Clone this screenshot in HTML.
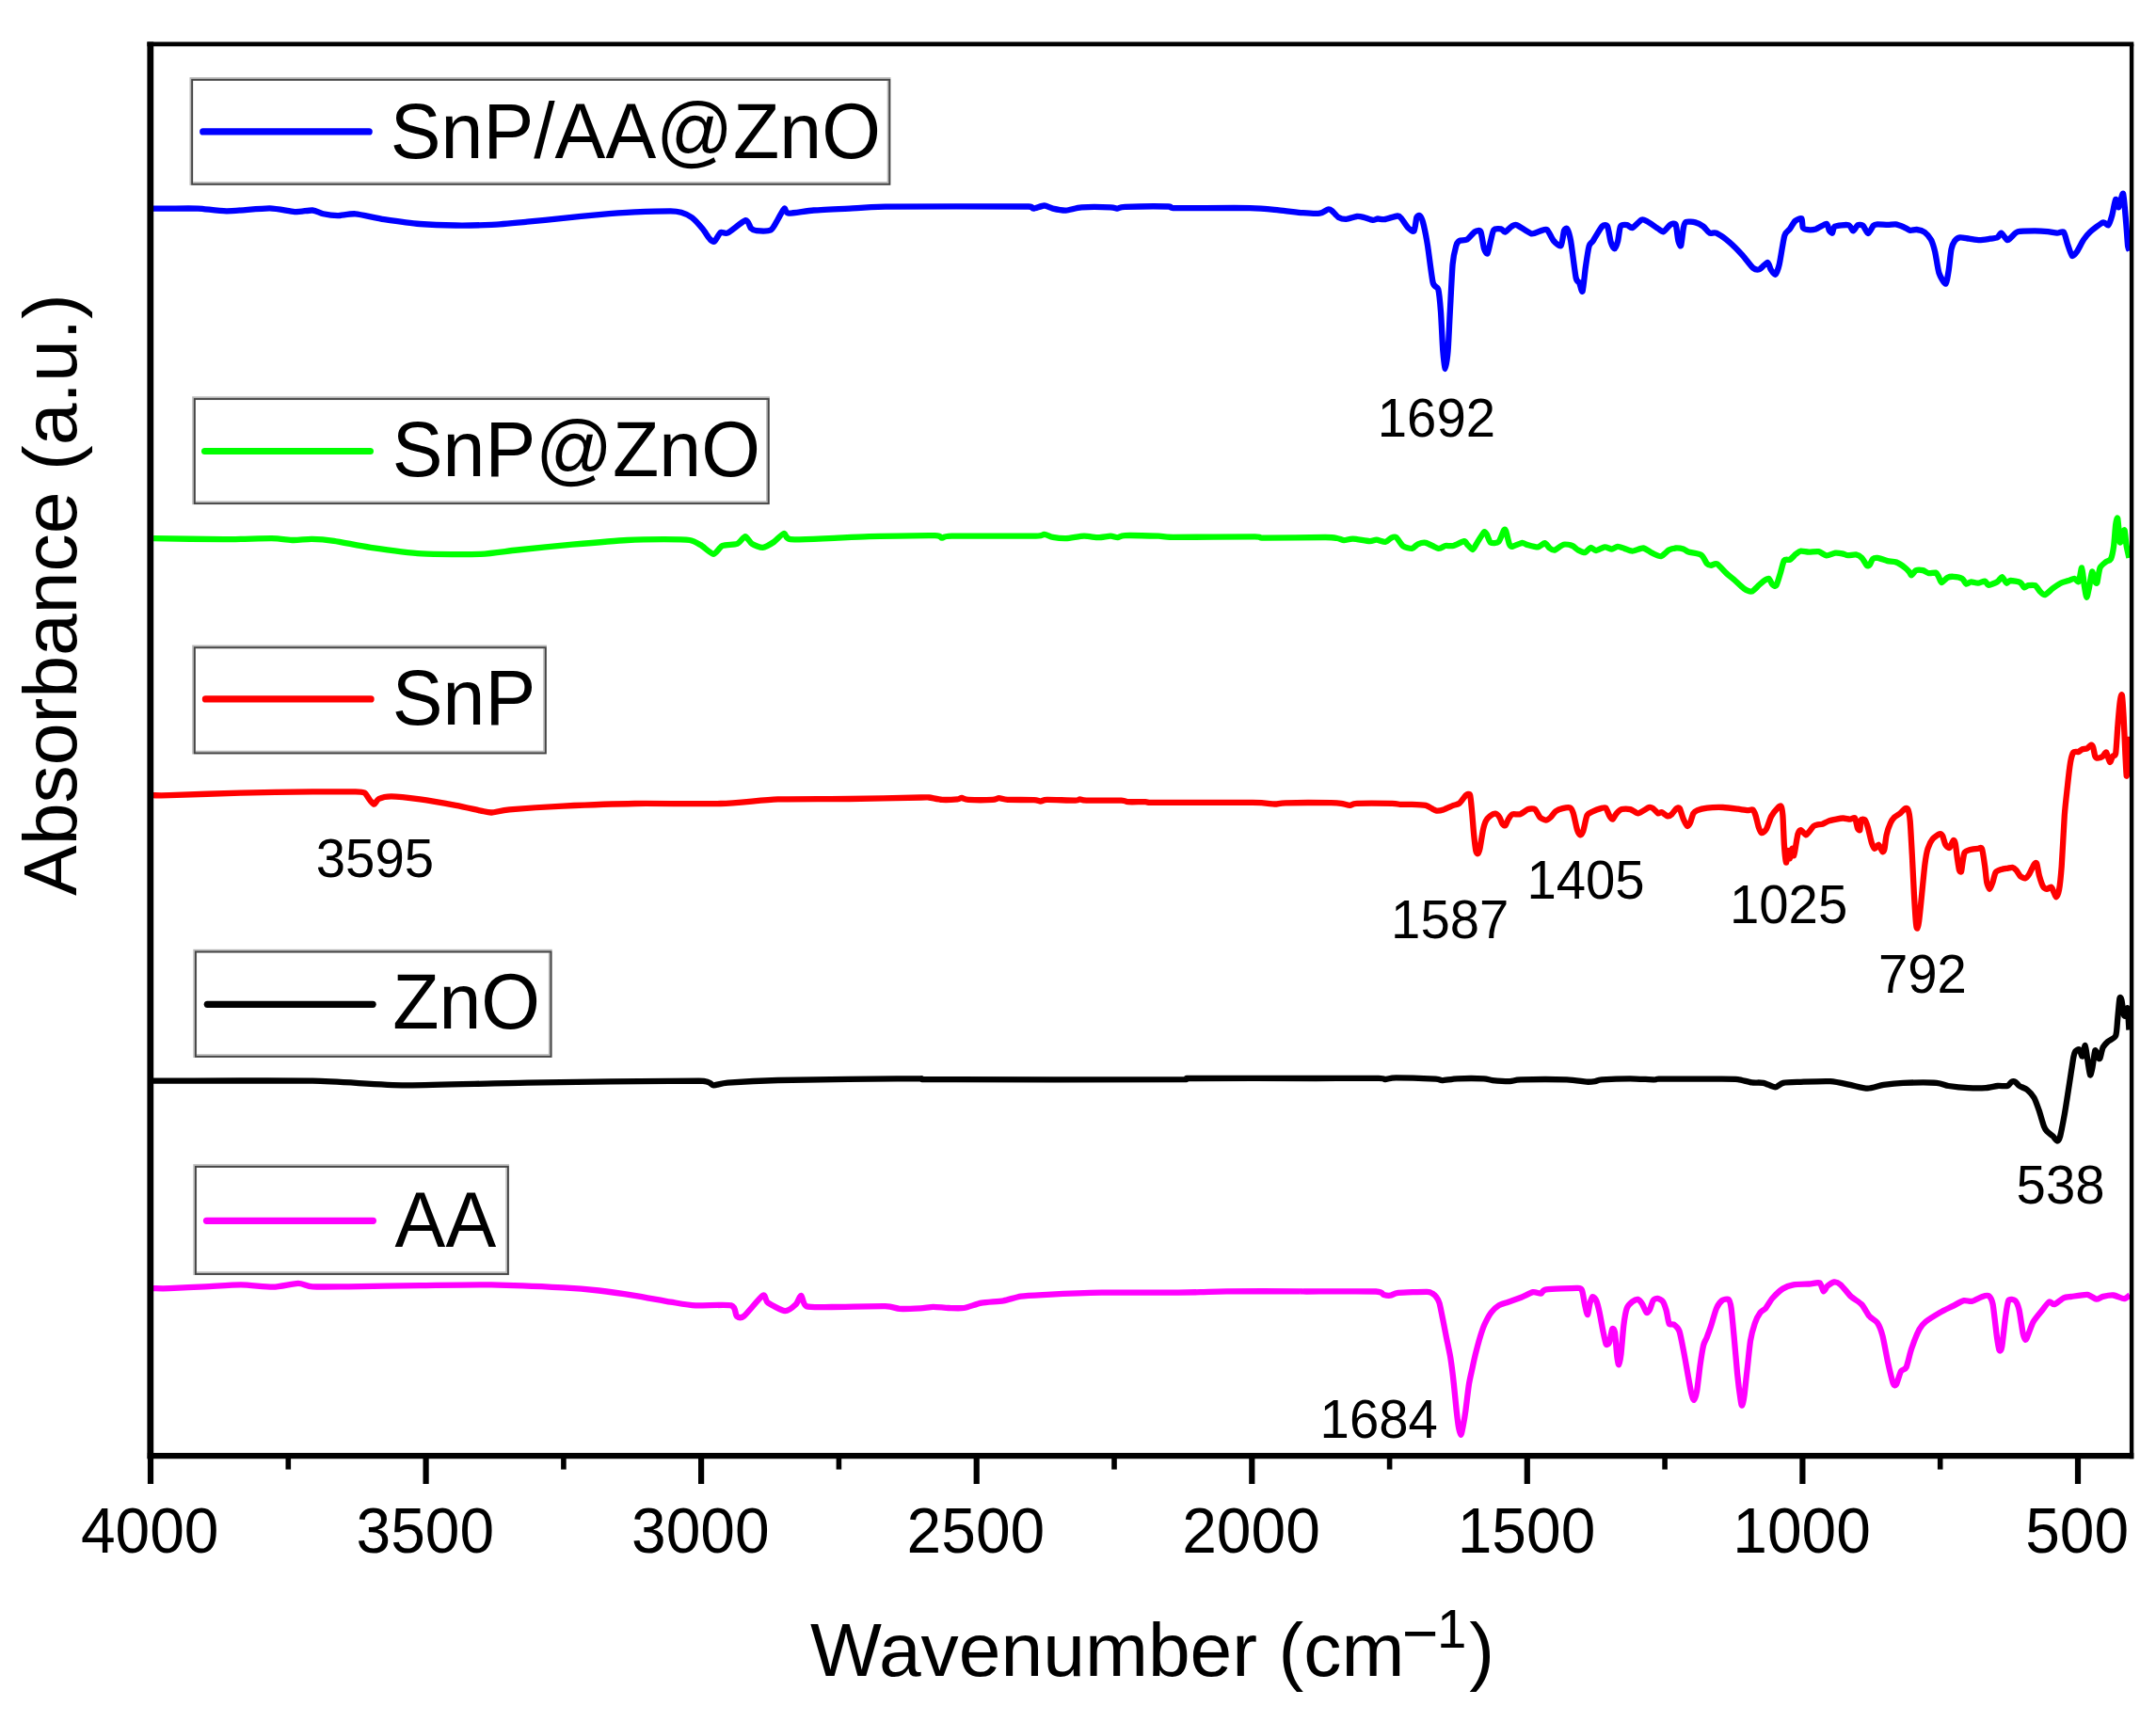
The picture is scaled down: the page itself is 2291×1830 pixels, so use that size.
<!DOCTYPE html>
<html lang="en"><head><meta charset="utf-8"><title>FTIR spectra</title>
<style>html,body{margin:0;padding:0;background:#fff;}body{width:2291px;height:1830px;overflow:hidden;}svg{display:block;}text{font-family:"Liberation Sans", Arial, Helvetica, sans-serif;fill:#000;}</style></head><body>
<svg width="2291" height="1830" viewBox="0 0 2291 1830">
<rect x="0" y="0" width="2291" height="1830" fill="#ffffff"/>
<path d="M162.9 221.6 C164.9 221.6 174.5 221.6 180.0 221.6 C185.5 221.6 203.3 221.3 210.4 221.6 C217.5 221.9 232.0 224.3 240.9 224.3 C249.8 224.3 278.1 221.2 286.5 221.3 C294.9 221.4 307.8 224.8 313.1 225.1 C318.4 225.4 328.6 223.2 332.1 223.5 C335.6 223.8 340.4 226.6 343.5 227.3 C346.6 228.0 354.8 229.2 358.8 229.2 C362.8 229.2 372.0 226.8 377.8 227.3 C383.6 227.8 400.2 231.9 408.2 233.1 C416.2 234.3 437.3 237.3 446.2 238.0 C455.1 238.7 475.4 239.4 484.3 239.5 C493.2 239.6 513.4 239.2 522.3 238.8 C531.2 238.4 551.4 236.5 560.3 235.7 C569.2 234.9 589.5 232.8 598.4 231.9 C607.3 231.0 627.5 228.9 636.4 228.1 C645.3 227.3 665.5 225.8 674.4 225.4 C683.3 225.0 706.7 224.3 712.5 224.3 C718.3 224.3 721.2 225.0 723.9 225.8 C726.6 226.6 732.6 229.2 735.3 231.2 C738.0 233.2 744.5 240.6 746.7 243.3 C748.9 246.0 752.8 252.4 754.3 254.0 C755.8 255.6 757.9 257.4 759.2 256.6 C760.5 255.8 764.1 248.2 765.7 247.1 C767.3 246.0 770.2 249.0 773.3 247.5 C776.4 246.0 789.4 234.8 792.3 234.2 C795.2 233.6 796.7 241.3 798.0 242.6 C799.3 243.9 801.2 245.0 803.7 245.2 C806.2 245.4 816.3 245.9 819.0 244.5 C821.7 243.1 824.9 235.8 826.6 233.1 C828.3 230.4 832.1 222.4 833.4 221.6 C834.7 220.8 834.4 226.4 838.0 226.6 C841.6 226.8 857.1 224.1 864.6 223.5 C872.1 222.9 893.7 222.0 902.6 221.6 C911.5 221.2 918.5 219.9 940.7 219.7 C962.9 219.5 1074.7 219.3 1093.1 219.5 C1098.2 219.7 1096.3 221.7 1098.2 221.6 C1100.1 221.5 1107.3 218.5 1109.7 218.5 C1112.1 218.5 1116.0 221.0 1118.7 221.6 C1121.4 222.2 1129.1 223.8 1132.7 223.6 C1136.3 223.4 1143.8 220.7 1149.3 220.3 C1154.8 219.9 1175.5 220.1 1180.0 220.3 C1184.5 220.5 1185.9 221.7 1187.7 221.6 C1189.5 221.5 1189.1 220.0 1195.4 219.8 C1201.7 219.6 1235.4 219.3 1241.4 219.5 C1246.5 219.7 1241.4 220.9 1246.5 221.1 C1256.6 221.3 1315.2 220.8 1328.3 221.1 C1341.4 221.4 1352.3 222.8 1358.9 223.4 C1365.5 224.0 1379.4 225.8 1384.5 226.2 C1389.6 226.6 1399.3 227.1 1402.4 226.7 C1405.5 226.3 1409.7 222.8 1411.2 222.5 C1412.7 222.2 1414.0 222.9 1415.3 223.9 C1416.6 224.9 1420.5 229.9 1422.3 230.9 C1424.1 231.9 1428.4 232.9 1430.7 232.8 C1433.0 232.7 1439.7 230.2 1441.8 230.0 C1443.9 229.8 1446.8 230.4 1448.8 230.9 C1450.8 231.4 1456.8 233.7 1458.6 233.9 C1460.4 234.1 1462.6 232.6 1464.1 232.5 C1465.6 232.4 1468.7 233.4 1471.1 233.1 C1473.5 232.8 1482.9 229.6 1485.0 229.5 C1487.1 229.4 1487.9 230.7 1489.2 232.2 C1490.5 233.7 1494.6 240.5 1496.2 242.0 C1497.8 243.5 1501.5 246.7 1502.6 245.4 C1503.7 244.1 1504.7 232.8 1505.4 230.9 C1506.1 229.0 1507.9 228.6 1508.7 229.2 C1509.5 229.8 1511.1 232.6 1512.1 236.4 C1513.1 240.2 1515.9 254.0 1517.1 261.5 C1518.3 269.0 1521.4 295.2 1522.7 300.6 C1524.0 306.0 1527.3 303.9 1528.3 307.5 C1529.3 311.1 1530.4 323.6 1531.0 331.2 C1531.6 338.8 1532.7 365.9 1533.3 373.0 C1533.9 380.1 1535.2 392.0 1535.8 392.0 C1536.4 392.0 1538.0 380.1 1538.6 373.0 C1539.2 365.9 1540.2 341.9 1540.8 331.2 C1541.4 320.5 1542.9 289.1 1543.6 281.0 C1544.3 272.9 1546.4 264.4 1547.2 261.5 C1548.0 258.6 1549.2 256.7 1550.6 255.9 C1552.0 255.1 1557.0 255.7 1558.9 254.6 C1560.8 253.5 1565.6 247.2 1567.3 246.2 C1569.0 245.2 1572.3 244.1 1573.4 246.2 C1574.5 248.3 1576.1 261.6 1577.0 264.3 C1577.9 267.0 1579.9 270.3 1580.7 269.3 C1581.5 268.3 1583.2 258.8 1584.0 255.9 C1584.8 253.0 1586.1 245.7 1587.4 244.2 C1588.7 242.7 1593.8 243.1 1595.2 243.4 C1596.6 243.7 1598.0 247.0 1599.3 246.7 C1600.6 246.4 1604.8 241.5 1606.3 240.6 C1607.8 239.7 1609.5 238.3 1611.9 239.2 C1614.3 240.1 1624.3 247.7 1627.2 248.4 C1630.1 249.1 1635.0 245.9 1637.0 245.4 C1639.0 244.9 1642.4 243.0 1644.0 244.2 C1645.6 245.4 1649.2 253.9 1650.9 255.9 C1652.6 257.9 1657.4 262.3 1658.7 261.0 C1660.0 259.7 1661.3 246.9 1662.1 244.8 C1662.9 242.7 1664.6 242.1 1665.4 243.4 C1666.2 244.7 1668.0 249.9 1669.1 255.9 C1670.2 261.9 1673.5 289.8 1674.6 295.0 C1675.7 300.2 1677.5 298.9 1678.3 300.6 C1679.1 302.3 1680.8 311.5 1681.6 309.5 C1682.4 307.5 1684.1 289.4 1684.9 283.8 C1685.7 278.2 1687.7 264.8 1688.6 261.5 C1689.5 258.2 1691.2 258.3 1692.8 255.9 C1694.4 253.5 1700.7 242.4 1702.5 240.6 C1704.3 238.8 1707.0 238.7 1708.1 240.6 C1709.2 242.5 1710.8 254.5 1711.7 257.3 C1712.6 260.1 1714.7 264.5 1715.6 264.3 C1716.5 264.1 1718.5 258.7 1719.2 255.9 C1719.9 253.1 1720.9 242.5 1722.0 240.6 C1723.1 238.7 1727.5 239.0 1729.0 239.2 C1730.5 239.4 1732.8 242.7 1734.6 242.0 C1736.4 241.3 1742.5 234.4 1744.3 233.6 C1746.1 232.8 1747.8 233.9 1749.9 235.0 C1752.0 236.1 1760.4 242.1 1762.5 243.4 C1764.6 244.7 1766.0 246.7 1767.5 246.2 C1769.0 245.7 1773.5 239.6 1775.0 238.7 C1776.5 237.8 1779.6 236.7 1780.6 238.7 C1781.6 240.7 1782.7 253.3 1783.4 255.9 C1784.1 258.5 1785.6 262.6 1786.2 261.0 C1786.8 259.4 1788.3 244.9 1788.9 242.0 C1789.5 239.1 1790.2 236.6 1791.7 235.9 C1793.2 235.2 1799.4 235.9 1801.5 236.4 C1803.6 236.9 1808.1 239.3 1809.9 240.6 C1811.7 241.9 1815.2 246.8 1816.8 247.6 C1818.4 248.4 1821.4 246.5 1823.8 247.6 C1826.2 248.7 1834.4 254.5 1837.7 257.3 C1841.0 260.1 1848.8 268.1 1851.7 271.3 C1854.6 274.5 1860.7 283.0 1862.8 284.7 C1864.9 286.4 1868.0 286.8 1869.8 286.1 C1871.6 285.4 1876.8 278.7 1878.2 278.8 C1879.6 278.9 1880.8 285.1 1881.8 286.6 C1882.8 288.1 1885.5 292.3 1886.5 291.6 C1887.5 290.9 1889.6 285.8 1890.7 281.0 C1891.8 276.2 1895.0 254.8 1896.3 250.4 C1897.6 246.0 1900.6 245.2 1901.9 243.4 C1903.2 241.6 1905.9 236.3 1907.4 235.0 C1908.9 233.7 1913.4 231.4 1914.4 232.2 C1915.4 233.0 1915.0 240.6 1915.8 242.0 C1916.6 243.4 1919.8 244.0 1921.4 244.2 C1923.0 244.4 1927.4 244.1 1929.7 243.4 C1932.0 242.7 1939.3 237.6 1940.9 237.8 C1942.5 238.0 1943.0 243.7 1943.7 244.8 C1944.4 245.9 1946.3 248.1 1947.0 247.6 C1947.7 247.1 1947.8 241.6 1949.8 240.6 C1951.8 239.6 1961.9 238.6 1964.2 239.2 C1966.5 239.8 1968.2 245.4 1969.3 245.4 C1970.4 245.4 1972.8 239.9 1974.0 239.2 C1975.2 238.5 1978.3 238.8 1979.6 239.8 C1980.9 240.8 1983.8 248.1 1985.1 248.1 C1986.4 248.1 1989.6 240.9 1990.7 239.8 C1991.8 238.7 1993.1 238.5 1994.9 238.4 C1996.7 238.3 2003.8 238.9 2006.1 238.9 C2008.4 238.9 2012.5 238.1 2014.4 238.4 C2016.3 238.7 2021.0 240.5 2022.8 241.2 C2024.6 241.9 2028.2 244.5 2029.8 244.8 C2031.4 245.1 2034.9 243.8 2036.7 244.0 C2038.5 244.2 2043.3 245.4 2045.1 246.7 C2046.9 248.0 2050.8 252.7 2052.1 255.1 C2053.4 257.6 2055.2 263.6 2056.2 267.7 C2057.2 271.8 2059.1 286.0 2060.4 290.0 C2061.7 294.0 2066.2 302.0 2067.4 301.7 C2068.6 301.4 2070.0 291.5 2070.7 287.2 C2071.4 282.9 2072.7 268.6 2073.5 264.9 C2074.3 261.2 2076.1 257.4 2077.2 255.9 C2078.3 254.4 2080.9 252.6 2082.7 252.3 C2084.5 252.0 2090.1 253.4 2092.5 253.7 C2094.9 254.0 2101.0 255.1 2103.6 255.1 C2106.2 255.1 2112.6 254.0 2114.8 253.7 C2117.0 253.4 2121.2 253.0 2122.6 252.3 C2124.0 251.6 2125.3 247.3 2126.5 247.6 C2127.7 247.9 2131.7 254.6 2132.9 255.1 C2134.1 255.6 2135.8 253.3 2137.1 252.3 C2138.4 251.3 2141.2 247.0 2144.1 246.2 C2147.0 245.4 2158.5 245.4 2162.2 245.4 C2165.9 245.4 2173.3 245.9 2176.1 246.2 C2178.9 246.5 2183.9 247.5 2185.9 247.6 C2187.9 247.7 2191.6 245.3 2192.9 246.7 C2194.2 248.1 2196.0 256.4 2197.0 259.3 C2198.0 262.2 2200.7 270.8 2201.8 271.8 C2202.9 272.8 2205.4 269.6 2206.8 267.7 C2208.2 265.8 2212.2 257.6 2213.8 255.1 C2215.4 252.7 2218.3 248.9 2220.7 246.7 C2223.1 244.5 2232.4 237.3 2234.7 236.4 C2237.0 235.5 2239.2 240.1 2240.3 239.2 C2241.4 238.3 2243.5 231.8 2244.4 228.6 C2245.3 225.4 2247.3 212.9 2248.1 211.9 C2248.9 210.9 2250.5 221.0 2251.4 220.3 C2252.3 219.6 2255.2 203.9 2256.1 205.8 C2257.0 207.7 2258.6 230.4 2259.2 237.0 C2259.8 243.6 2260.7 258.7 2261.2 262.1 C2261.7 265.5 2262.9 265.8 2263.1 266.3" fill="none" stroke="#0000ff" stroke-width="6.3" stroke-linejoin="round" stroke-linecap="butt"/>
<path d="M163.1 572.1 C171.8 572.2 223.3 573.2 237.9 573.2 C252.5 573.2 280.0 572.0 288.6 572.1 C297.2 572.2 306.9 573.9 311.9 574.0 C316.9 574.1 326.4 572.8 331.4 572.9 C336.4 573.0 347.5 573.8 354.8 574.8 C362.1 575.8 382.9 580.2 393.8 581.8 C404.7 583.4 434.7 587.6 448.3 588.4 C461.9 589.2 498.8 589.3 510.6 588.8 C522.4 588.3 538.2 585.7 549.6 584.5 C561.0 583.3 594.5 579.9 608.1 578.7 C621.7 577.5 655.1 574.6 666.5 574.0 C677.9 573.4 697.8 573.2 705.5 573.2 C713.2 573.2 728.2 573.3 732.7 574.0 C737.2 574.7 741.4 577.4 744.4 579.1 C747.4 580.8 755.4 588.7 758.1 588.8 C760.8 588.9 764.8 581.2 767.8 579.9 C770.8 578.6 780.6 579.0 783.4 577.9 C786.2 576.8 790.1 570.1 791.9 570.1 C793.7 570.1 796.8 576.5 799.0 577.9 C801.2 579.3 807.9 582.0 810.6 581.8 C813.3 581.6 819.7 577.7 822.3 576.0 C824.9 574.3 830.8 567.3 832.9 567.0 C835.0 566.7 834.3 572.6 839.9 573.2 C845.5 573.8 871.0 572.5 880.8 572.1 C890.6 571.7 910.5 570.5 923.6 570.1 C936.7 569.8 984.4 568.9 993.4 569.1 C1001.1 569.3 999.0 571.6 1001.1 571.7 C1003.2 571.8 1001.1 569.9 1011.3 569.7 C1022.9 569.5 1089.3 569.9 1100.8 569.7 C1109.7 569.5 1107.6 567.8 1109.7 567.9 C1111.8 568.0 1116.0 570.4 1118.7 570.9 C1121.4 571.4 1128.8 572.3 1132.7 572.2 C1136.6 572.1 1147.9 569.8 1151.9 569.7 C1155.9 569.6 1163.9 571.2 1167.2 571.2 C1170.5 571.2 1177.6 569.7 1180.0 569.7 C1182.4 569.7 1185.9 571.3 1187.7 571.2 C1189.5 571.1 1190.3 569.3 1195.4 569.1 C1200.5 568.9 1225.1 569.5 1231.1 569.7 C1237.1 569.9 1234.6 570.8 1246.5 570.9 C1258.4 571.0 1322.1 570.3 1333.4 570.4 C1343.6 570.5 1334.8 571.6 1343.6 571.7 C1352.3 571.8 1399.4 571.0 1408.4 571.0 C1417.4 571.0 1418.6 571.6 1420.9 572.0 C1423.2 572.4 1426.3 574.0 1428.2 574.1 C1430.1 574.2 1434.4 572.5 1437.6 572.6 C1440.8 572.7 1452.5 575.0 1455.4 575.1 C1458.3 575.2 1460.8 573.6 1462.7 573.7 C1464.6 573.8 1470.3 576.0 1472.1 575.8 C1473.9 575.6 1477.1 572.2 1478.4 571.6 C1479.7 571.0 1482.1 570.0 1483.6 571.0 C1485.1 572.0 1489.0 579.0 1491.0 580.4 C1493.0 581.8 1498.6 583.1 1500.4 582.9 C1502.2 582.7 1504.9 579.0 1506.6 578.3 C1508.3 577.6 1512.4 576.3 1515.0 576.8 C1517.6 577.3 1526.2 582.5 1528.6 582.9 C1531.0 583.3 1534.1 580.3 1535.9 580.0 C1537.7 579.7 1542.0 580.6 1544.3 580.0 C1546.6 579.4 1554.1 575.3 1555.8 575.1 C1557.5 574.9 1557.9 577.2 1558.9 578.3 C1560.0 579.3 1563.6 584.2 1564.8 584.1 C1566.0 584.0 1568.0 579.3 1569.4 577.2 C1570.8 575.1 1575.5 566.8 1576.7 565.7 C1577.9 564.6 1578.9 566.5 1579.8 567.8 C1580.7 569.1 1582.5 575.7 1584.0 576.6 C1585.5 577.5 1590.7 577.4 1592.4 575.8 C1594.1 574.2 1597.3 564.5 1598.2 563.2 C1599.1 561.9 1599.6 562.9 1600.3 564.7 C1601.0 566.5 1603.1 576.4 1603.9 578.3 C1604.7 580.2 1605.4 581.0 1607.0 580.8 C1608.6 580.6 1615.7 577.0 1617.5 576.8 C1619.3 576.6 1620.8 578.4 1622.7 578.9 C1624.6 579.4 1632.0 581.6 1634.2 581.4 C1636.4 581.2 1640.0 577.1 1641.5 577.2 C1643.0 577.3 1645.5 581.6 1646.7 582.5 C1647.9 583.4 1650.3 585.0 1652.0 584.6 C1653.7 584.2 1659.2 579.2 1661.4 578.7 C1663.6 578.2 1669.0 579.3 1670.8 580.0 C1672.6 580.7 1675.5 583.8 1677.1 584.6 C1678.7 585.4 1682.9 587.4 1684.4 587.1 C1685.9 586.8 1688.9 582.2 1690.2 582.0 C1691.5 581.8 1694.1 585.1 1695.9 585.0 C1697.7 584.9 1703.4 581.6 1705.3 581.4 C1707.2 581.2 1711.0 583.6 1712.6 583.5 C1714.2 583.4 1717.3 580.9 1718.9 580.8 C1720.5 580.7 1724.4 582.3 1726.2 582.9 C1728.0 583.5 1732.3 585.6 1734.6 585.6 C1736.9 585.6 1743.7 582.3 1746.1 582.5 C1748.5 582.7 1753.3 586.7 1755.5 587.7 C1757.7 588.7 1762.8 591.6 1764.9 591.2 C1767.0 590.8 1771.5 585.6 1773.3 584.6 C1775.1 583.6 1778.8 582.6 1780.6 582.5 C1782.4 582.4 1787.3 583.0 1788.9 583.5 C1790.5 584.0 1792.0 585.9 1794.2 586.6 C1796.4 587.3 1805.5 588.3 1807.8 589.8 C1810.1 591.3 1812.8 597.9 1814.0 599.2 C1815.2 600.5 1817.0 600.9 1818.2 600.9 C1819.4 600.9 1822.6 598.2 1824.5 599.2 C1826.4 600.2 1832.8 607.7 1834.9 609.6 C1837.0 611.5 1840.4 614.1 1842.5 615.9 C1844.6 617.7 1850.8 623.8 1853.0 625.3 C1855.2 626.8 1859.6 628.9 1861.4 628.5 C1863.2 628.1 1867.2 623.5 1868.7 622.2 C1870.2 620.9 1872.6 618.5 1873.9 617.6 C1875.2 616.7 1878.5 614.5 1879.6 614.9 C1880.7 615.3 1882.4 620.2 1883.3 621.1 C1884.2 622.0 1886.5 623.5 1887.5 622.2 C1888.5 620.9 1890.7 612.7 1891.7 609.6 C1892.7 606.5 1894.7 597.4 1895.9 595.6 C1897.1 593.9 1900.6 595.4 1902.1 594.6 C1903.6 593.8 1907.1 589.8 1908.4 588.7 C1909.7 587.7 1912.0 585.8 1913.6 585.6 C1915.2 585.4 1919.8 586.5 1922.0 586.6 C1924.2 586.7 1930.3 585.8 1932.5 586.2 C1934.7 586.6 1938.7 590.2 1940.8 590.4 C1942.9 590.6 1948.2 587.9 1950.2 587.7 C1952.2 587.5 1956.0 588.0 1957.6 588.3 C1959.2 588.6 1962.1 590.1 1963.8 590.2 C1965.5 590.3 1970.5 589.1 1972.2 589.4 C1973.9 589.7 1977.2 591.6 1978.5 592.9 C1979.8 594.2 1982.7 600.0 1983.7 600.9 C1984.7 601.8 1986.1 601.0 1986.8 600.2 C1987.5 599.4 1989.0 594.9 1990.0 594.0 C1991.0 593.1 1993.4 592.7 1995.2 592.9 C1997.0 593.1 2003.4 595.6 2005.7 596.1 C2008.0 596.6 2012.9 596.6 2015.1 597.5 C2017.3 598.4 2022.9 602.2 2024.5 603.4 C2026.1 604.6 2027.9 606.7 2028.7 607.6 C2029.5 608.5 2030.3 611.5 2031.2 611.3 C2032.1 611.1 2034.6 606.7 2036.0 606.1 C2037.4 605.5 2041.7 605.7 2043.3 606.1 C2044.9 606.5 2048.0 608.9 2049.6 609.2 C2051.2 609.5 2055.7 608.2 2056.9 608.6 C2058.1 609.0 2059.3 611.6 2060.0 612.8 C2060.7 614.0 2062.1 619.0 2063.2 619.1 C2064.3 619.2 2067.9 614.5 2069.4 613.8 C2070.9 613.1 2073.9 612.7 2075.7 612.8 C2077.5 612.9 2083.5 614.0 2085.1 614.9 C2086.7 615.8 2088.2 620.1 2089.3 620.5 C2090.4 620.9 2093.0 618.5 2094.5 618.4 C2096.0 618.3 2100.1 619.8 2101.8 619.7 C2103.5 619.6 2107.9 617.4 2109.2 617.6 C2110.5 617.8 2111.7 621.8 2113.3 621.8 C2114.9 621.8 2121.2 619.0 2122.8 618.0 C2124.4 617.0 2126.3 613.0 2127.4 613.2 C2128.5 613.4 2131.2 619.3 2132.2 619.7 C2133.2 620.1 2134.6 617.1 2136.3 617.0 C2138.0 616.9 2145.1 618.2 2146.8 619.1 C2148.5 620.0 2150.0 623.9 2151.0 624.3 C2152.0 624.7 2153.9 622.4 2155.2 622.2 C2156.5 622.0 2161.0 621.5 2162.5 622.2 C2164.0 622.9 2166.5 627.3 2167.7 628.5 C2168.9 629.7 2171.3 632.6 2172.9 632.2 C2174.5 631.8 2179.3 626.8 2181.3 625.3 C2183.3 623.8 2187.8 620.7 2189.7 619.7 C2191.6 618.7 2196.3 617.6 2198.0 617.0 C2199.7 616.4 2203.0 614.8 2204.3 614.9 C2205.6 615.0 2208.0 619.3 2208.9 618.0 C2209.8 616.7 2211.5 602.9 2212.2 603.4 C2212.9 603.9 2214.2 618.5 2214.8 622.2 C2215.4 625.9 2216.7 634.5 2217.3 634.7 C2217.9 634.9 2219.3 627.5 2220.0 624.3 C2220.7 621.1 2222.4 608.3 2223.1 607.6 C2223.8 606.9 2225.7 616.7 2226.3 618.0 C2226.9 619.3 2227.8 620.8 2228.4 619.1 C2229.0 617.4 2230.4 606.0 2231.5 603.4 C2232.6 600.8 2236.5 598.2 2237.8 597.1 C2239.1 596.0 2242.0 595.9 2243.0 594.0 C2244.0 592.1 2245.5 584.7 2246.1 580.4 C2246.7 576.1 2247.7 560.8 2248.2 557.4 C2248.7 554.0 2249.8 548.9 2250.3 551.1 C2250.8 553.3 2252.2 574.3 2252.8 576.2 C2253.4 578.1 2254.9 569.3 2255.5 567.8 C2256.1 566.3 2257.1 562.1 2257.6 563.6 C2258.1 565.1 2259.1 577.0 2259.7 580.4 C2260.3 583.8 2262.1 591.4 2262.4 592.9" fill="none" stroke="#00ff00" stroke-width="6.3" stroke-linejoin="round" stroke-linecap="butt"/>
<path d="M162.9 845.2 C164.9 845.2 169.1 845.5 180.0 845.2 C190.9 844.9 238.4 843.0 256.1 842.6 C273.8 842.2 317.9 841.5 332.1 841.4 C346.3 841.3 371.4 841.3 377.8 841.4 C384.2 841.5 385.5 841.6 387.3 842.6 C389.1 843.6 391.8 848.8 393.0 850.2 C394.2 851.6 396.5 854.8 397.6 854.7 C398.7 854.6 400.4 850.0 402.5 849.0 C404.6 848.0 410.7 846.4 415.8 846.4 C420.9 846.4 438.2 848.3 446.2 849.4 C454.2 850.5 476.8 854.5 484.3 855.9 C491.8 857.3 506.5 860.7 510.9 861.6 C515.3 862.5 518.8 863.6 522.3 863.5 C525.8 863.4 532.4 861.2 541.3 860.4 C550.2 859.6 582.9 857.3 598.4 856.6 C613.9 855.9 654.9 854.3 674.4 854.0 C693.9 853.7 747.9 854.5 765.7 854.0 C783.5 853.5 810.6 850.0 826.6 849.4 C842.6 848.8 884.9 849.2 902.6 849.0 C920.3 848.8 968.8 847.7 978.7 847.5 C987.2 847.3 984.6 847.2 987.2 847.5 C989.8 847.8 997.6 849.7 1001.1 849.9 C1004.6 850.1 1015.0 849.6 1017.4 849.4 C1019.8 849.2 1020.6 847.9 1022.0 848.0 C1023.4 848.1 1025.2 849.7 1029.0 849.9 C1032.8 850.1 1050.8 850.1 1054.6 849.9 C1058.4 849.7 1059.6 848.2 1061.5 848.2 C1063.4 848.2 1066.5 849.7 1070.8 849.9 C1075.1 850.1 1094.6 849.9 1098.7 850.1 C1102.8 850.3 1104.1 851.5 1105.7 851.5 C1107.3 851.5 1108.3 850.0 1112.6 849.9 C1116.9 849.8 1138.7 850.7 1142.8 850.6 C1146.9 850.5 1146.1 849.4 1147.5 849.4 C1148.9 849.4 1149.4 850.5 1154.5 850.6 C1159.6 850.7 1186.5 850.4 1191.6 850.6 C1196.7 850.8 1195.6 852.0 1198.6 852.2 C1201.6 852.4 1214.2 852.1 1217.2 852.2 C1220.2 852.3 1217.2 852.8 1224.2 852.9 C1237.5 853.0 1315.8 852.7 1331.0 852.9 C1346.2 853.1 1350.2 854.5 1354.3 854.5 C1358.4 854.5 1358.9 853.5 1365.9 853.3 C1372.9 853.1 1407.7 853.1 1414.6 853.2 C1421.5 853.3 1422.8 853.5 1425.1 853.8 C1427.4 854.1 1432.6 855.9 1434.5 855.9 C1436.4 855.9 1436.5 854.0 1441.8 853.8 C1447.0 853.6 1474.1 853.7 1479.5 853.8 C1484.9 853.9 1485.4 854.8 1487.8 854.9 C1490.2 855.0 1497.2 854.8 1500.4 854.9 C1503.6 855.0 1512.6 855.4 1515.0 855.9 C1517.4 856.4 1520.0 858.4 1521.3 859.1 C1522.6 859.8 1525.0 861.4 1526.5 861.6 C1528.0 861.8 1531.7 861.2 1533.8 860.5 C1535.9 859.8 1542.3 856.7 1544.3 855.9 C1546.3 855.1 1549.0 855.1 1550.6 853.8 C1552.2 852.5 1556.6 846.0 1557.9 845.0 C1559.2 844.0 1561.4 843.0 1562.1 845.0 C1562.8 847.0 1563.6 857.3 1564.1 862.2 C1564.6 867.1 1565.7 882.4 1566.2 887.3 C1566.7 892.2 1567.8 901.7 1568.3 904.0 C1568.8 906.3 1569.9 907.4 1570.4 907.2 C1570.9 907.0 1571.9 904.7 1572.5 901.9 C1573.1 899.1 1575.0 886.5 1575.7 883.1 C1576.4 879.7 1577.9 874.4 1578.8 872.6 C1579.7 870.8 1581.8 868.3 1583.0 867.4 C1584.2 866.5 1588.0 864.6 1589.2 864.7 C1590.4 864.8 1592.5 867.2 1593.4 868.5 C1594.3 869.8 1595.9 874.8 1596.6 875.8 C1597.3 876.8 1599.0 877.8 1599.7 877.2 C1600.4 876.6 1601.9 872.0 1602.8 870.6 C1603.7 869.2 1605.5 865.9 1607.0 865.3 C1608.5 864.7 1613.5 865.9 1615.4 865.3 C1617.3 864.7 1621.9 860.7 1623.7 860.1 C1625.5 859.5 1629.6 859.1 1631.1 860.1 C1632.6 861.1 1635.0 867.2 1636.3 868.5 C1637.6 869.8 1641.3 871.6 1642.6 871.6 C1643.9 871.6 1646.6 869.6 1647.8 868.5 C1649.0 867.4 1651.5 863.3 1653.0 862.2 C1654.5 861.1 1658.5 859.5 1660.3 859.1 C1662.1 858.7 1667.4 858.0 1668.7 858.6 C1670.0 859.2 1670.9 861.6 1671.8 864.3 C1672.7 867.0 1675.1 879.4 1676.0 882.1 C1676.9 884.8 1678.5 887.2 1679.2 887.3 C1679.9 887.4 1681.4 885.5 1682.3 883.1 C1683.2 880.7 1685.3 868.8 1686.5 866.4 C1687.7 864.0 1691.1 863.1 1692.8 862.2 C1694.5 861.3 1699.5 859.5 1701.1 859.1 C1702.7 858.7 1705.2 857.6 1706.3 858.6 C1707.4 859.6 1709.6 866.0 1710.5 867.4 C1711.4 868.8 1712.8 871.0 1713.7 870.6 C1714.6 870.2 1716.7 865.5 1717.8 864.3 C1718.9 863.1 1721.4 860.6 1723.1 860.1 C1724.8 859.6 1730.4 859.6 1732.5 860.1 C1734.6 860.6 1738.5 864.5 1740.8 864.3 C1743.1 864.1 1750.5 858.6 1752.3 858.0 C1754.1 857.4 1755.4 858.4 1756.5 859.1 C1757.6 859.8 1760.7 863.8 1761.8 864.3 C1762.9 864.8 1764.7 862.8 1765.9 863.2 C1767.1 863.6 1771.0 867.2 1772.2 867.4 C1773.4 867.6 1775.3 866.3 1776.4 865.3 C1777.5 864.3 1780.6 859.8 1781.6 859.1 C1782.6 858.4 1783.9 857.8 1784.8 859.1 C1785.7 860.4 1787.9 868.4 1788.9 870.6 C1789.9 872.8 1792.2 877.5 1793.1 877.9 C1794.0 878.3 1795.6 875.3 1796.3 873.7 C1797.0 872.1 1798.5 865.8 1799.4 864.3 C1800.3 862.8 1801.9 861.8 1803.6 861.1 C1805.3 860.4 1810.8 859.0 1814.0 858.6 C1817.2 858.2 1827.0 857.9 1830.8 858.0 C1834.6 858.1 1843.6 859.3 1846.7 859.7 C1849.8 860.1 1855.4 861.0 1857.2 861.1 C1859.0 861.2 1861.4 859.9 1862.4 860.5 C1863.4 861.1 1864.8 864.3 1865.5 866.4 C1866.2 868.5 1868.0 876.7 1868.7 878.9 C1869.4 881.1 1870.8 885.0 1871.8 885.2 C1872.8 885.4 1875.8 883.1 1877.0 881.0 C1878.2 878.9 1880.8 870.1 1882.3 867.4 C1883.8 864.7 1888.4 859.2 1889.6 858.0 C1890.8 856.8 1892.1 856.0 1892.7 857.0 C1893.3 858.0 1894.0 861.7 1894.4 866.4 C1894.8 871.1 1895.5 891.8 1895.9 897.7 C1896.3 903.6 1897.5 915.9 1898.0 916.6 C1898.5 917.3 1899.6 904.5 1900.1 904.0 C1900.6 903.5 1901.6 912.6 1902.1 912.4 C1902.6 912.2 1903.7 902.3 1904.2 901.9 C1904.7 901.5 1905.8 909.7 1906.3 909.2 C1906.8 908.7 1907.9 900.4 1908.4 897.7 C1908.9 895.0 1909.9 888.0 1910.5 886.2 C1911.1 884.4 1912.6 882.0 1913.6 882.1 C1914.6 882.2 1917.8 887.2 1918.9 887.3 C1920.0 887.4 1922.1 884.2 1923.1 883.1 C1924.1 882.0 1926.2 878.7 1927.2 877.9 C1928.2 877.1 1930.3 876.6 1931.4 876.4 C1932.5 876.2 1935.3 876.2 1936.6 875.8 C1937.9 875.4 1941.2 873.2 1942.9 872.6 C1944.6 872.0 1949.5 871.0 1951.3 870.6 C1953.1 870.2 1956.9 869.5 1958.6 869.5 C1960.3 869.5 1964.4 870.6 1965.9 870.6 C1967.4 870.6 1970.2 868.4 1971.1 869.5 C1972.0 870.6 1973.3 878.5 1973.9 880.0 C1974.5 881.5 1976.0 883.1 1976.4 882.1 C1976.8 881.1 1976.8 872.9 1977.4 871.6 C1978.0 870.3 1980.7 870.3 1981.6 871.2 C1982.5 872.1 1983.8 876.0 1984.7 878.9 C1985.6 881.8 1988.0 893.0 1988.9 895.7 C1989.8 898.4 1991.2 901.7 1992.1 901.9 C1993.0 902.1 1995.2 897.3 1996.2 897.7 C1997.2 898.1 1999.7 904.6 2000.4 905.1 C2001.1 905.6 2002.0 904.0 2002.5 901.9 C2003.0 899.8 2003.9 890.5 2004.6 887.3 C2005.3 884.1 2007.8 876.9 2008.8 874.7 C2009.8 872.5 2011.8 869.7 2013.0 868.5 C2014.2 867.3 2017.9 865.4 2019.2 864.3 C2020.5 863.2 2023.5 859.5 2024.5 859.1 C2025.5 858.7 2027.0 858.9 2027.6 860.5 C2028.2 862.1 2029.2 867.0 2029.7 872.6 C2030.2 878.2 2031.3 899.2 2031.8 908.2 C2032.3 917.2 2033.4 941.5 2033.9 950.0 C2034.4 958.5 2035.6 977.1 2036.0 981.4 C2036.4 985.7 2037.0 986.8 2037.4 986.6 C2037.8 986.4 2038.5 983.6 2039.1 979.3 C2039.7 975.0 2041.5 957.1 2042.2 950.0 C2042.9 942.9 2044.7 924.3 2045.4 918.7 C2046.1 913.1 2047.5 905.1 2048.5 901.9 C2049.5 898.7 2052.2 893.3 2053.7 891.5 C2055.2 889.7 2059.9 886.6 2061.1 886.2 C2062.3 885.8 2063.5 887.0 2064.2 888.3 C2064.9 889.6 2066.4 896.2 2067.3 897.7 C2068.2 899.2 2070.5 901.4 2071.5 900.9 C2072.5 900.4 2075.0 893.6 2075.7 893.1 C2076.4 892.6 2077.3 894.4 2077.8 896.7 C2078.3 899.0 2079.4 909.1 2079.9 912.4 C2080.4 915.7 2081.5 923.3 2082.0 924.9 C2082.5 926.5 2083.7 927.0 2084.1 926.0 C2084.5 925.0 2085.1 918.9 2085.5 916.6 C2085.9 914.3 2086.7 907.7 2087.6 906.1 C2088.5 904.5 2091.8 903.5 2093.5 903.0 C2095.2 902.5 2100.3 902.0 2101.8 901.9 C2103.3 901.8 2105.1 899.7 2106.0 901.9 C2106.9 904.1 2108.6 916.5 2109.2 920.7 C2109.8 924.9 2110.6 934.7 2111.2 937.5 C2111.8 940.3 2113.7 944.8 2114.4 944.8 C2115.1 944.8 2116.8 939.6 2117.5 937.5 C2118.2 935.4 2119.6 928.6 2120.7 927.0 C2121.8 925.4 2125.4 924.4 2126.9 923.9 C2128.4 923.4 2131.9 923.0 2133.2 922.8 C2134.5 922.6 2137.3 921.6 2138.4 921.8 C2139.5 922.0 2141.6 923.8 2142.6 924.9 C2143.6 926.0 2145.7 930.2 2146.8 931.2 C2147.9 932.2 2150.9 933.5 2152.0 933.3 C2153.1 933.1 2155.1 930.8 2156.2 929.1 C2157.3 927.4 2160.5 920.0 2161.4 918.7 C2162.3 917.4 2163.5 916.1 2164.2 917.6 C2164.9 919.1 2166.3 928.4 2167.1 931.2 C2167.9 934.0 2169.9 940.1 2170.8 941.7 C2171.7 943.3 2174.0 944.7 2175.0 944.8 C2176.0 944.9 2178.7 942.3 2179.6 942.7 C2180.5 943.1 2181.7 946.7 2182.3 947.9 C2182.9 949.1 2184.4 953.4 2185.1 953.2 C2185.8 953.0 2187.3 949.6 2188.0 945.8 C2188.7 942.0 2190.0 930.0 2190.7 920.7 C2191.4 911.4 2193.1 876.4 2193.8 866.4 C2194.5 856.4 2196.3 841.6 2197.0 835.0 C2197.7 828.4 2199.4 814.0 2200.1 809.9 C2200.8 805.8 2202.3 800.8 2203.3 799.5 C2204.3 798.2 2207.4 799.4 2208.5 799.0 C2209.6 798.6 2211.6 796.7 2212.7 796.3 C2213.8 795.9 2216.8 795.8 2217.9 795.3 C2219.0 794.8 2221.4 791.8 2222.1 791.7 C2222.8 791.6 2223.7 792.8 2224.2 794.2 C2224.7 795.6 2225.7 802.3 2226.3 803.6 C2226.9 804.9 2228.4 805.7 2229.4 805.7 C2230.4 805.7 2233.6 804.3 2234.6 803.6 C2235.6 802.9 2237.3 798.8 2238.2 799.5 C2239.1 800.2 2241.1 809.4 2241.9 809.9 C2242.7 810.4 2244.4 804.7 2245.1 803.6 C2245.8 802.5 2247.6 804.2 2248.2 800.5 C2248.8 796.8 2249.8 778.8 2250.3 772.3 C2250.8 765.8 2252.3 749.0 2252.8 745.1 C2253.3 741.2 2254.5 736.9 2254.9 738.8 C2255.3 740.7 2256.2 754.7 2256.6 761.8 C2257.0 768.9 2257.9 792.2 2258.3 799.5 C2258.7 806.8 2259.4 823.6 2259.7 824.6 C2260.0 825.6 2260.9 812.7 2261.2 807.8 C2261.5 802.9 2262.3 785.6 2262.4 782.7" fill="none" stroke="#ff0000" stroke-width="6.3" stroke-linejoin="round" stroke-linecap="butt"/>
<path d="M162.9 1148.7 C164.9 1148.7 162.9 1148.7 180.0 1148.7 C199.7 1148.7 302.8 1148.2 332.1 1148.7 C361.4 1149.2 404.4 1153.1 431.0 1153.3 C457.6 1153.5 523.9 1151.1 560.3 1150.6 C596.7 1150.1 719.8 1148.4 742.9 1148.7 C758.1 1149.0 754.6 1153.1 758.1 1153.3 C761.6 1153.5 765.3 1151.2 773.3 1150.6 C781.3 1150.0 802.6 1148.5 826.6 1148.0 C850.6 1147.5 960.8 1146.2 978.7 1146.1 C980.2 1146.0 978.7 1147.1 980.2 1147.2 C1013.0 1147.3 1227.4 1147.3 1260.2 1147.2 C1261.3 1147.1 1260.2 1146.1 1261.3 1146.0 C1277.4 1145.9 1374.6 1146.0 1398.4 1146.0 C1422.2 1146.0 1456.5 1145.7 1465.1 1145.8 C1472.0 1145.9 1469.8 1147.1 1472.0 1147.0 C1474.2 1146.9 1477.4 1145.3 1483.6 1145.3 C1489.8 1145.3 1519.8 1146.4 1525.5 1146.7 C1531.2 1147.0 1529.7 1148.1 1532.4 1148.1 C1535.1 1148.1 1543.5 1146.5 1548.7 1146.3 C1553.9 1146.1 1572.3 1146.1 1576.6 1146.3 C1580.9 1146.5 1582.6 1147.8 1585.9 1148.1 C1589.2 1148.4 1601.0 1149.2 1604.5 1149.1 C1608.0 1149.0 1609.1 1147.6 1616.1 1147.4 C1623.1 1147.2 1656.8 1147.1 1664.9 1147.4 C1673.0 1147.7 1682.3 1149.5 1685.8 1149.7 C1689.3 1149.9 1693.2 1149.4 1695.1 1149.1 C1697.0 1148.8 1697.7 1147.7 1702.0 1147.4 C1706.3 1147.1 1725.7 1146.3 1732.2 1146.3 C1738.7 1146.3 1754.3 1147.4 1757.8 1147.4 C1761.3 1147.4 1757.8 1146.8 1762.5 1146.7 C1770.9 1146.6 1820.0 1146.7 1829.8 1146.7 C1839.6 1146.7 1843.0 1146.7 1846.7 1147.1 C1850.4 1147.5 1858.2 1150.0 1861.4 1150.4 C1864.6 1150.8 1871.0 1150.2 1873.9 1150.8 C1876.8 1151.4 1884.1 1155.4 1886.5 1155.4 C1888.9 1155.4 1891.6 1151.5 1894.8 1150.8 C1898.0 1150.1 1907.7 1150.0 1913.6 1149.8 C1919.5 1149.6 1938.9 1148.8 1945.0 1149.2 C1951.1 1149.6 1961.3 1152.0 1965.9 1152.9 C1970.5 1153.8 1980.5 1156.7 1984.7 1156.7 C1988.9 1156.7 1997.1 1153.6 2001.5 1152.9 C2005.9 1152.2 2015.8 1151.0 2022.4 1150.8 C2029.0 1150.6 2052.3 1150.4 2057.9 1150.8 C2063.5 1151.2 2066.6 1153.4 2070.5 1154.0 C2074.4 1154.6 2086.8 1155.9 2091.4 1156.1 C2096.0 1156.3 2106.5 1156.3 2110.2 1156.1 C2113.9 1155.9 2120.1 1154.2 2122.8 1154.0 C2125.5 1153.8 2131.5 1154.5 2133.2 1154.0 C2134.9 1153.5 2136.4 1150.3 2137.4 1149.8 C2138.4 1149.3 2140.6 1149.3 2141.6 1149.8 C2142.6 1150.3 2144.3 1153.0 2145.8 1154.0 C2147.3 1155.0 2152.3 1156.6 2154.1 1158.1 C2155.9 1159.6 2159.9 1163.9 2161.4 1166.5 C2162.9 1169.1 2165.5 1176.6 2166.7 1180.1 C2167.9 1183.6 2170.9 1194.2 2171.9 1196.8 C2172.9 1199.4 2173.9 1200.9 2175.0 1202.1 C2176.1 1203.3 2180.0 1206.1 2181.3 1207.3 C2182.6 1208.5 2185.0 1212.5 2185.9 1212.5 C2186.8 1212.5 2188.3 1210.6 2189.2 1207.3 C2190.1 1204.0 2192.6 1190.9 2193.8 1184.3 C2195.0 1177.7 2198.0 1157.9 2199.1 1150.8 C2200.2 1143.7 2202.6 1127.5 2203.3 1123.6 C2204.0 1119.7 2204.6 1118.4 2205.3 1117.4 C2206.0 1116.4 2208.6 1114.7 2209.5 1115.3 C2210.4 1115.9 2212.0 1123.1 2212.7 1122.6 C2213.4 1122.1 2215.1 1110.5 2215.8 1111.1 C2216.5 1111.7 2217.9 1124.1 2218.5 1127.8 C2219.1 1131.5 2220.4 1141.8 2221.0 1142.5 C2221.6 1143.2 2222.9 1137.2 2223.5 1134.1 C2224.1 1131.0 2225.6 1117.5 2226.3 1116.3 C2227.0 1115.1 2228.8 1122.6 2229.4 1123.6 C2230.0 1124.6 2230.9 1125.9 2231.5 1124.7 C2232.1 1123.5 2233.6 1115.3 2234.6 1113.2 C2235.6 1111.1 2238.3 1108.4 2239.9 1106.9 C2241.5 1105.4 2247.0 1103.5 2248.2 1100.6 C2249.4 1097.7 2249.8 1086.4 2250.3 1081.8 C2250.8 1077.2 2251.9 1063.1 2252.4 1060.9 C2252.9 1058.7 2254.0 1061.1 2254.5 1063.0 C2255.0 1064.9 2256.1 1075.7 2256.6 1077.6 C2257.1 1079.5 2258.2 1080.4 2258.7 1079.7 C2259.2 1079.0 2260.4 1069.7 2260.8 1071.4 C2261.2 1073.1 2262.2 1091.7 2262.4 1094.4" fill="none" stroke="#000000" stroke-width="6.3" stroke-linejoin="round" stroke-linecap="butt"/>
<path d="M162.9 1369.2 C164.9 1369.2 173.6 1369.4 180.0 1369.2 C186.4 1369.0 209.1 1367.7 218.0 1367.3 C226.9 1366.9 247.7 1365.4 256.1 1365.4 C264.5 1365.4 283.2 1367.9 290.3 1367.7 C297.4 1367.5 312.0 1363.9 316.9 1363.9 C321.8 1363.9 325.9 1366.9 332.1 1367.3 C338.3 1367.7 356.9 1367.4 370.2 1367.3 C383.5 1367.2 428.5 1366.3 446.2 1366.1 C463.9 1365.9 504.5 1365.1 522.3 1365.4 C540.1 1365.7 585.1 1367.7 598.4 1368.4 C611.7 1369.1 627.5 1370.5 636.4 1371.5 C645.3 1372.5 665.5 1375.4 674.4 1376.8 C683.3 1378.2 705.0 1382.4 712.5 1383.6 C720.0 1384.8 731.6 1387.0 739.1 1387.4 C746.6 1387.8 772.0 1386.1 777.1 1387.4 C782.2 1388.7 781.2 1397.5 782.8 1398.8 C784.4 1400.1 787.2 1401.4 790.4 1398.8 C793.6 1396.2 807.6 1378.5 810.6 1376.8 C813.6 1375.1 813.1 1382.5 815.9 1384.4 C818.7 1386.3 830.7 1392.9 834.2 1393.1 C837.7 1393.3 843.6 1388.2 845.6 1386.3 C847.6 1384.4 850.0 1376.6 851.3 1376.8 C852.6 1377.0 853.2 1386.8 857.0 1388.2 C860.8 1389.6 873.8 1389.0 883.6 1389.0 C893.4 1389.0 932.3 1388.0 940.7 1388.2 C949.1 1388.4 951.6 1390.6 955.9 1390.9 C960.2 1391.2 973.7 1390.6 977.9 1390.4 C982.1 1390.2 988.3 1388.8 991.8 1388.8 C995.3 1388.8 1004.3 1389.9 1008.1 1390.0 C1011.9 1390.1 1020.2 1390.6 1024.3 1390.0 C1028.4 1389.4 1038.0 1385.5 1042.9 1384.6 C1047.8 1383.7 1061.3 1383.1 1066.2 1382.3 C1071.1 1381.5 1079.4 1378.4 1084.8 1377.6 C1090.2 1376.8 1102.6 1376.3 1112.6 1375.8 C1122.6 1375.3 1156.3 1373.9 1170.7 1373.7 C1185.1 1373.5 1223.6 1373.8 1235.8 1373.7 C1248.0 1373.6 1267.4 1373.4 1275.3 1373.2 C1283.2 1373.0 1291.0 1372.4 1303.2 1372.3 C1315.4 1372.2 1369.9 1372.3 1379.8 1372.3 C1388.3 1372.3 1379.8 1372.5 1388.3 1372.5 C1397.9 1372.5 1452.5 1372.1 1462.1 1372.5 C1470.4 1372.9 1468.6 1375.5 1470.4 1376.0 C1472.2 1376.5 1475.6 1376.9 1477.4 1376.7 C1479.2 1376.5 1481.2 1374.4 1485.8 1373.9 C1490.3 1373.4 1512.2 1372.7 1516.4 1372.8 C1520.6 1372.9 1520.8 1374.0 1521.9 1374.6 C1523.0 1375.2 1525.2 1376.9 1526.1 1378.1 C1527.0 1379.3 1528.8 1382.2 1529.6 1385.0 C1530.4 1387.8 1532.2 1397.3 1533.1 1401.7 C1534.0 1406.1 1536.2 1417.7 1537.2 1422.6 C1538.2 1427.5 1540.5 1437.8 1541.4 1443.5 C1542.3 1449.2 1544.2 1464.8 1544.9 1471.3 C1545.6 1477.8 1547.1 1493.9 1547.7 1499.1 C1548.3 1504.3 1549.3 1512.8 1549.8 1515.8 C1550.3 1518.8 1551.7 1524.9 1552.3 1524.9 C1552.9 1524.9 1554.0 1518.8 1554.6 1515.8 C1555.2 1512.8 1556.7 1504.3 1557.4 1499.1 C1558.1 1493.9 1560.1 1476.5 1560.9 1471.3 C1561.7 1466.1 1563.6 1458.3 1564.4 1454.6 C1565.2 1450.9 1566.8 1443.2 1567.8 1439.3 C1568.8 1435.4 1571.6 1424.9 1572.7 1421.2 C1573.8 1417.5 1576.2 1410.4 1577.6 1407.3 C1579.0 1404.2 1582.7 1397.2 1584.5 1394.8 C1586.3 1392.4 1590.8 1388.4 1592.9 1387.1 C1595.0 1385.8 1599.8 1384.7 1602.6 1383.7 C1605.4 1382.7 1613.4 1380.0 1616.5 1378.8 C1619.6 1377.6 1626.7 1373.7 1629.1 1373.2 C1631.5 1372.7 1635.8 1374.9 1637.4 1374.6 C1639.0 1374.3 1638.4 1371.1 1643.0 1370.4 C1647.6 1369.7 1672.1 1368.7 1676.5 1368.8 C1680.9 1368.9 1680.2 1369.6 1681.1 1371.6 C1682.0 1373.6 1683.2 1382.6 1683.9 1385.6 C1684.6 1388.6 1686.3 1397.2 1686.9 1397.2 C1687.5 1397.2 1688.7 1387.8 1689.3 1385.6 C1689.9 1383.4 1691.5 1378.5 1692.3 1378.1 C1693.1 1377.7 1695.3 1380.1 1696.2 1382.1 C1697.1 1384.1 1698.9 1391.2 1699.7 1394.9 C1700.5 1398.6 1702.4 1409.6 1703.2 1413.5 C1704.0 1417.4 1705.9 1427.1 1706.7 1428.6 C1707.5 1430.1 1709.4 1428.1 1710.2 1426.2 C1711.0 1424.3 1712.5 1413.5 1713.2 1412.3 C1713.9 1411.1 1715.4 1412.4 1716.0 1415.8 C1716.6 1419.2 1717.8 1437.3 1718.3 1441.3 C1718.8 1445.3 1719.7 1450.5 1720.2 1450.2 C1720.7 1449.9 1721.9 1443.8 1722.5 1439.0 C1723.1 1434.2 1724.6 1414.5 1725.3 1408.8 C1726.0 1403.1 1727.7 1393.2 1728.8 1390.2 C1729.9 1387.2 1733.2 1384.4 1734.6 1383.3 C1736.0 1382.2 1739.2 1380.6 1740.4 1380.9 C1741.6 1381.2 1743.9 1384.0 1745.0 1385.6 C1746.1 1387.2 1748.7 1394.2 1749.7 1394.9 C1750.7 1395.6 1752.4 1392.9 1753.2 1391.4 C1754.0 1389.9 1755.7 1383.5 1756.6 1382.1 C1757.5 1380.7 1760.1 1379.7 1761.3 1379.8 C1762.5 1379.9 1766.0 1381.8 1767.1 1383.3 C1768.2 1384.8 1769.8 1389.8 1770.6 1392.5 C1771.4 1395.2 1772.7 1404.7 1773.6 1406.5 C1774.5 1408.3 1777.4 1406.7 1778.7 1407.6 C1780.0 1408.5 1783.3 1411.2 1784.5 1414.6 C1785.7 1418.0 1788.1 1431.1 1789.2 1436.7 C1790.3 1442.3 1792.9 1457.1 1793.8 1462.2 C1794.7 1467.3 1796.6 1477.8 1797.3 1480.8 C1798.0 1483.8 1799.4 1488.1 1800.1 1487.8 C1800.8 1487.5 1802.3 1482.8 1803.1 1478.5 C1803.9 1474.2 1805.8 1456.3 1806.6 1450.6 C1807.4 1444.9 1809.3 1433.1 1810.1 1429.7 C1810.9 1426.3 1812.7 1424.0 1813.6 1421.6 C1814.5 1419.2 1817.0 1412.5 1818.2 1408.8 C1819.4 1405.1 1822.6 1393.3 1824.0 1390.2 C1825.4 1387.1 1828.3 1383.2 1829.8 1382.1 C1831.3 1381.0 1835.7 1380.0 1836.8 1380.9 C1837.9 1381.8 1838.9 1385.6 1839.6 1390.2 C1840.3 1394.8 1841.8 1412.3 1842.6 1420.4 C1843.4 1428.5 1845.3 1452.0 1846.1 1459.9 C1846.9 1467.8 1849.0 1483.9 1849.6 1487.8 C1850.2 1491.7 1850.7 1494.1 1851.2 1493.6 C1851.7 1493.1 1852.9 1487.7 1853.5 1483.2 C1854.1 1478.7 1855.8 1462.1 1856.6 1455.3 C1857.4 1448.5 1859.1 1430.8 1860.0 1425.1 C1860.9 1419.4 1863.5 1410.0 1864.7 1406.5 C1865.9 1403.0 1869.1 1396.8 1870.5 1394.9 C1871.9 1393.0 1874.8 1392.0 1876.3 1390.2 C1877.8 1388.4 1881.2 1382.2 1883.3 1379.8 C1885.4 1377.4 1891.9 1371.2 1894.5 1369.5 C1897.1 1367.8 1902.4 1365.9 1905.7 1365.3 C1909.0 1364.7 1919.1 1364.7 1922.4 1364.5 C1925.7 1364.3 1931.8 1362.5 1933.6 1363.4 C1935.4 1364.3 1936.7 1371.9 1937.7 1372.3 C1938.7 1372.7 1940.6 1367.8 1941.9 1366.7 C1943.2 1365.6 1947.3 1362.7 1948.9 1362.5 C1950.5 1362.3 1953.8 1363.5 1955.9 1365.3 C1958.0 1367.1 1964.4 1375.5 1967.0 1377.9 C1969.6 1380.3 1975.9 1383.8 1978.2 1386.2 C1980.5 1388.6 1984.6 1396.5 1986.5 1398.8 C1988.4 1401.1 1993.3 1403.4 1994.9 1405.8 C1996.5 1408.2 1999.2 1414.8 2000.5 1419.7 C2001.8 1424.6 2004.8 1441.7 2006.1 1447.6 C2007.4 1453.5 2010.6 1467.1 2011.6 1469.9 C2012.6 1472.7 2014.0 1472.8 2015.0 1471.3 C2016.0 1469.8 2018.8 1459.4 2020.0 1457.3 C2021.2 1455.2 2024.3 1456.0 2025.6 1453.2 C2026.9 1450.4 2029.5 1438.3 2031.1 1433.6 C2032.7 1428.9 2037.7 1416.1 2039.5 1412.7 C2041.3 1409.3 2043.9 1406.5 2046.5 1404.4 C2049.1 1402.3 2058.4 1396.6 2061.8 1394.6 C2065.2 1392.6 2072.9 1389.1 2075.8 1387.6 C2078.7 1386.1 2084.6 1382.6 2086.9 1382.1 C2089.2 1381.6 2093.0 1383.4 2095.3 1382.9 C2097.6 1382.4 2104.3 1378.6 2106.4 1377.9 C2108.5 1377.2 2112.1 1376.3 2113.4 1377.3 C2114.7 1378.3 2116.6 1381.3 2117.6 1386.2 C2118.6 1391.1 2121.0 1414.0 2121.8 1419.7 C2122.6 1425.4 2124.0 1433.7 2124.6 1435.0 C2125.2 1436.3 2126.6 1435.0 2127.3 1430.9 C2128.0 1426.8 2130.2 1405.9 2131.0 1400.2 C2131.8 1394.5 2133.1 1384.2 2134.3 1382.1 C2135.5 1380.0 2140.0 1381.0 2141.3 1382.1 C2142.6 1383.2 2144.5 1387.7 2145.5 1391.8 C2146.5 1395.9 2148.8 1413.2 2149.6 1416.9 C2150.4 1420.6 2151.7 1423.7 2152.4 1423.9 C2153.1 1424.1 2154.2 1420.6 2155.2 1418.3 C2156.2 1416.0 2159.0 1407.5 2160.8 1404.4 C2162.6 1401.3 2168.7 1394.2 2170.6 1391.8 C2172.5 1389.4 2176.0 1384.2 2177.5 1383.5 C2179.0 1382.8 2181.3 1386.7 2183.1 1386.2 C2184.9 1385.7 2190.8 1380.3 2192.9 1379.3 C2195.0 1378.3 2198.3 1378.3 2201.2 1377.9 C2204.1 1377.5 2214.9 1375.6 2218.0 1375.9 C2221.1 1376.2 2225.8 1380.5 2227.7 1380.7 C2229.6 1380.9 2232.6 1378.4 2234.7 1377.9 C2236.8 1377.4 2243.2 1376.2 2245.8 1376.5 C2248.4 1376.8 2255.0 1380.1 2257.0 1380.1 C2259.0 1380.1 2262.4 1376.9 2263.1 1376.5" fill="none" stroke="#ff00ff" stroke-width="6.3" stroke-linejoin="round" stroke-linecap="butt"/>
<line x1="156.4" y1="46.8" x2="2267.3" y2="46.8" stroke="#000" stroke-width="4.8"/>
<line x1="2265.1" y1="46.8" x2="2265.1" y2="1550.3" stroke="#000" stroke-width="4.4"/>
<line x1="159.8" y1="44.4" x2="159.8" y2="1550.3" stroke="#000" stroke-width="6.8"/>
<line x1="156.8" y1="1547.2" x2="2267.3" y2="1547.2" stroke="#000" stroke-width="6.2"/>
<line x1="160.0" y1="1547.2" x2="160.0" y2="1577.0" stroke="#000" stroke-width="6.2"/>
<line x1="452.6" y1="1547.2" x2="452.6" y2="1577.0" stroke="#000" stroke-width="6.2"/>
<line x1="745.1" y1="1547.2" x2="745.1" y2="1577.0" stroke="#000" stroke-width="6.2"/>
<line x1="1037.7" y1="1547.2" x2="1037.7" y2="1577.0" stroke="#000" stroke-width="6.2"/>
<line x1="1330.3" y1="1547.2" x2="1330.3" y2="1577.0" stroke="#000" stroke-width="6.2"/>
<line x1="1622.8" y1="1547.2" x2="1622.8" y2="1577.0" stroke="#000" stroke-width="6.2"/>
<line x1="1915.4" y1="1547.2" x2="1915.4" y2="1577.0" stroke="#000" stroke-width="6.2"/>
<line x1="2208.0" y1="1547.2" x2="2208.0" y2="1577.0" stroke="#000" stroke-width="6.2"/>
<line x1="306.3" y1="1547.2" x2="306.3" y2="1561.6" stroke="#000" stroke-width="5.6"/>
<line x1="598.9" y1="1547.2" x2="598.9" y2="1561.6" stroke="#000" stroke-width="5.6"/>
<line x1="891.4" y1="1547.2" x2="891.4" y2="1561.6" stroke="#000" stroke-width="5.6"/>
<line x1="1184.0" y1="1547.2" x2="1184.0" y2="1561.6" stroke="#000" stroke-width="5.6"/>
<line x1="1476.6" y1="1547.2" x2="1476.6" y2="1561.6" stroke="#000" stroke-width="5.6"/>
<line x1="1769.1" y1="1547.2" x2="1769.1" y2="1561.6" stroke="#000" stroke-width="5.6"/>
<line x1="2061.7" y1="1547.2" x2="2061.7" y2="1561.6" stroke="#000" stroke-width="5.6"/>
<text transform="translate(159.2 1650.2) scale(0.975 1)" font-size="67.6" text-anchor="middle">4000</text>
<text transform="translate(451.8 1650.2) scale(0.975 1)" font-size="67.6" text-anchor="middle">3500</text>
<text transform="translate(744.3 1650.2) scale(0.975 1)" font-size="67.6" text-anchor="middle">3000</text>
<text transform="translate(1036.9 1650.2) scale(0.975 1)" font-size="67.6" text-anchor="middle">2500</text>
<text transform="translate(1329.5 1650.2) scale(0.975 1)" font-size="67.6" text-anchor="middle">2000</text>
<text transform="translate(1622.0 1650.2) scale(0.975 1)" font-size="67.6" text-anchor="middle">1500</text>
<text transform="translate(1914.6 1650.2) scale(0.975 1)" font-size="67.6" text-anchor="middle">1000</text>
<text transform="translate(2207.2 1650.2) scale(0.975 1)" font-size="67.6" text-anchor="middle">500</text>
<text x="861" y="1781.2" font-size="80.4">Wavenumber (cm</text>
<text x="1509.2" y="1758.4" font-size="66" text-anchor="middle">−</text>
<text x="1527" y="1750.6" font-size="56.5">1</text>
<text x="1561.3" y="1781.2" font-size="80.4">)</text>
<text transform="translate(80.5 952) rotate(-90)" font-size="80.5">Absorbance (a.u.)</text>
<rect x="203.4" y="84.0" width="741.2" height="111.0" fill="#fff" stroke="#b8b8b8" stroke-width="3.8"/>
<rect x="204.1" y="84.8" width="741.2" height="111.0" fill="none" stroke="#444" stroke-width="1.8"/>
<line x1="215.7" y1="139.9" x2="392.2" y2="139.9" stroke="#0000ff" stroke-width="7.2" stroke-linecap="round"/>
<text transform="translate(414.8 168.2) scale(0.974 1)" font-size="82.8">SnP/AA@ZnO</text>
<rect x="206.1" y="423.2" width="609.9" height="111.1" fill="#fff" stroke="#b8b8b8" stroke-width="3.8"/>
<rect x="206.8" y="424.0" width="609.9" height="111.1" fill="none" stroke="#444" stroke-width="1.8"/>
<line x1="217.6" y1="479.5" x2="393.4" y2="479.5" stroke="#00ff00" stroke-width="7.2" stroke-linecap="round"/>
<text transform="translate(416.8 505.5) scale(0.974 1)" font-size="82.8">SnP@ZnO</text>
<rect x="206.1" y="687.4" width="373.0" height="112.2" fill="#fff" stroke="#b8b8b8" stroke-width="3.8"/>
<rect x="206.8" y="688.2" width="373.0" height="112.2" fill="none" stroke="#444" stroke-width="1.8"/>
<line x1="218.4" y1="742.9" x2="394.1" y2="742.9" stroke="#ff0000" stroke-width="7.2" stroke-linecap="round"/>
<text transform="translate(416.8 770.1) scale(0.974 1)" font-size="82.8">SnP</text>
<rect x="207.2" y="1010.7" width="377.6" height="111.4" fill="#fff" stroke="#b8b8b8" stroke-width="3.8"/>
<rect x="207.9" y="1011.5" width="377.6" height="111.4" fill="none" stroke="#444" stroke-width="1.8"/>
<line x1="220.3" y1="1067.3" x2="396.1" y2="1067.3" stroke="#000000" stroke-width="7.2" stroke-linecap="round"/>
<text transform="translate(417.2 1093.4) scale(0.974 1)" font-size="82.8">ZnO</text>
<rect x="207.2" y="1239.1" width="332.0" height="114.1" fill="#fff" stroke="#b8b8b8" stroke-width="3.8"/>
<rect x="207.9" y="1239.9" width="332.0" height="114.1" fill="none" stroke="#444" stroke-width="1.8"/>
<line x1="219.5" y1="1297.3" x2="396.4" y2="1297.3" stroke="#ff00ff" stroke-width="7.2" stroke-linecap="round"/>
<text transform="translate(419.6 1324.5) scale(0.974 1)" font-size="82.8">AA</text>
<text transform="translate(1463.8 463.9) scale(0.967 1)" font-size="58.2">1692</text>
<text transform="translate(335.8 932.2) scale(0.967 1)" font-size="58.2">3595</text>
<text transform="translate(1478.1 996.8) scale(0.967 1)" font-size="58.2">1587</text>
<text transform="translate(1622.4 954.9) scale(0.967 1)" font-size="58.2">1405</text>
<text transform="translate(1838.0 981.3) scale(0.967 1)" font-size="58.2">1025</text>
<text transform="translate(1996.0 1054.9) scale(0.967 1)" font-size="58.2">792</text>
<text transform="translate(2142.6 1278.7) scale(0.967 1)" font-size="58.2">538</text>
<text transform="translate(1402.6 1528.4) scale(0.967 1)" font-size="58.2">1684</text>
</svg></body></html>
